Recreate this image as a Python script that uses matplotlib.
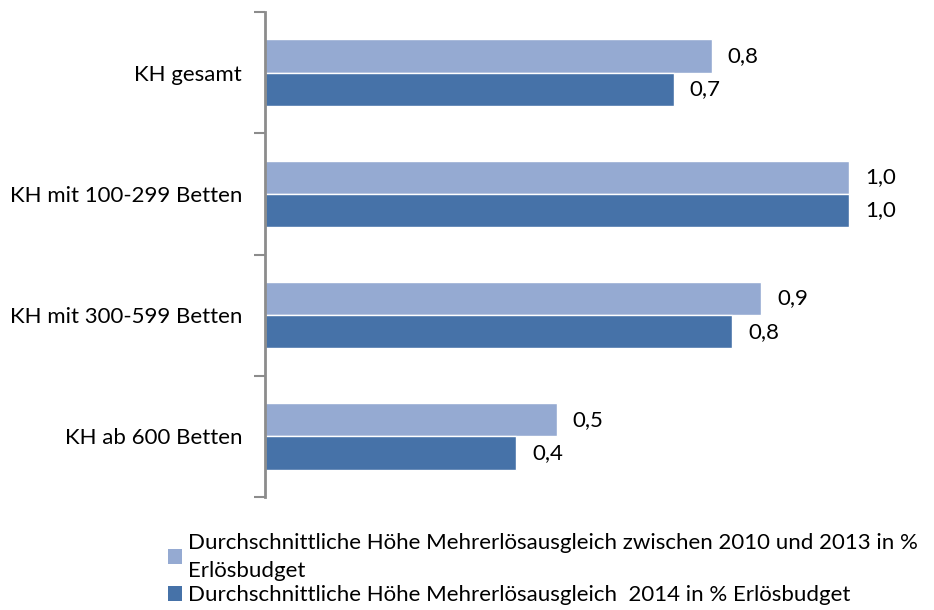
import numpy as np
import matplotlib.pyplot as plt
from matplotlib.patches import Patch

# Daten
kategorien = ['KH gesamt', 'KH mit 100-299 Betten', 'KH mit 300-599 Betten', 'KH ab 600 Betten']
werte_2010_2013 = [0.765, 1.0, 0.85, 0.50]
werte_2014 = [0.70, 1.0, 0.80, 0.43]
labels_2010_2013 = ['0,8', '1,0', '0,9', '0,5']
labels_2014 = ['0,7', '1,0', '0,8', '0,4']
serien_namen = ['Durchschnittliche Höhe Mehrerlösausgleich zwischen 2010 und 2013 in %\nErlösbudget',
                'Durchschnittliche Höhe Mehrerlösausgleich  2014 in % Erlösbudget']

farbe_hell = '#95AAD2'
farbe_dunkel = '#4672A8'
achse_grau = '#8C8C8C'
fs = 16

plt.rcParams['font.family'] = ['Lato', 'DejaVu Sans']

fig = plt.figure(figsize=(9.34, 6.10), dpi=100)
ax = fig.add_axes([265/934, 113/610, 650/934, 485/610])

y = np.arange(len(kategorien))
h = 0.275
ax.barh(y - h/2, werte_2010_2013, height=h, color=farbe_hell, edgecolor='white', linewidth=1)
ax.barh(y + h/2, werte_2014, height=h, color=farbe_dunkel, edgecolor='white', linewidth=1)

# Beschriftungen
for i in range(len(kategorien)):
    ax.text(werte_2010_2013[i] + 0.027, y[i] - h/2, labels_2010_2013[i],
            va='center', ha='left', fontsize=fs)
    ax.text(werte_2014[i] + 0.027, y[i] + h/2, labels_2014[i],
            va='center', ha='left', fontsize=fs)

ax.set_xlim(0, 650/584)
ax.set_ylim(len(kategorien) - 0.5, -0.5)

for s in ['top', 'right', 'bottom']:
    ax.spines[s].set_visible(False)
ax.spines['left'].set_color(achse_grau)
ax.spines['left'].set_linewidth(2)
ax.set_xticks([])

ax.set_yticks(np.arange(len(kategorien) + 1) - 0.5)
ax.set_yticklabels([])
ax.tick_params(axis='y', which='major', length=8, width=1.5, color=achse_grau)
ax.set_yticks(y, minor=True)
ax.set_yticklabels(kategorien, minor=True, fontsize=fs)
ax.tick_params(axis='y', which='minor', length=0, pad=16.5)

handles = [Patch(facecolor=farbe_hell), Patch(facecolor=farbe_dunkel)]
leg = fig.legend(handles, serien_namen, loc='upper left', bbox_to_anchor=(0.168, 0.145),
                 frameon=False, fontsize=fs, handlelength=0.65, handleheight=0.65,
                 handletextpad=0.25, labelspacing=0.2, borderpad=0)
for t in leg.get_texts():
    t.set_linespacing(1.5)

fig.savefig('out.png', dpi=100)
